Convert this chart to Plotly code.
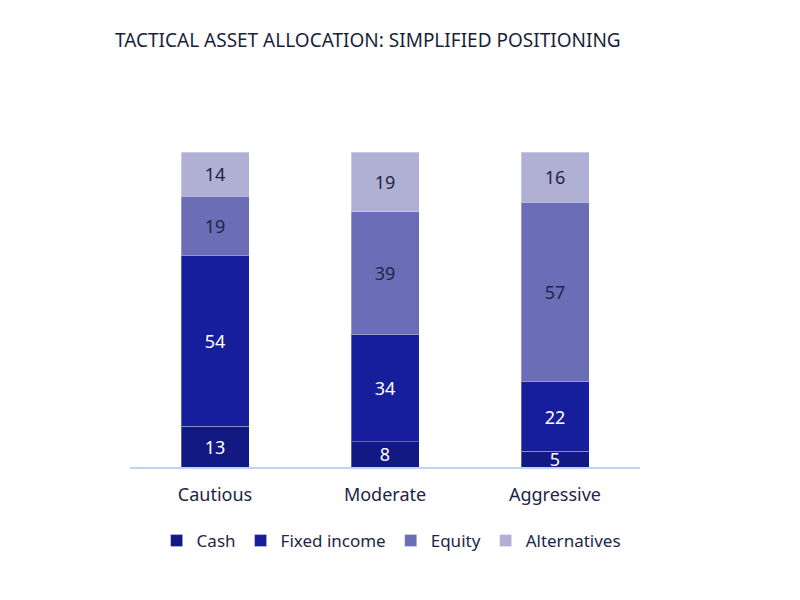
import plotly.graph_objects as go

profiles = ["Cautious", "Moderate", "Aggressive"]
cash = [13, 8, 5]
fixed_income = [54, 34, 22]
equity = [19, 39, 57]
alternatives = [14, 19, 16]

series = [
    ("Cash", cash, "#131983", "white"),
    ("Fixed income", fixed_income, "#161e9c", "white"),
    ("Equity", equity, "#6b6db7", "#1c2647"),
    ("Alternatives", alternatives, "#b0b0d5", "#1c2647"),
]

fig = go.Figure()
for name, vals, color, txtcolor in series:
    fig.add_trace(go.Bar(
        x=profiles, y=vals, name=name,
        marker=dict(color=color, line=dict(color="rgba(255,255,255,0.3)", width=1)),
        text=vals, textposition="inside", insidetextanchor="middle", textangle=0,
        textfont=dict(color=txtcolor, size=18),
        width=0.4,
    ))

# page body has an 8px margin, so everything is shifted up/left by 8px
fig.update_layout(
    barmode="stack",
    width=800, height=600,
    margin=dict(l=122, r=168, t=144, b=141),
    plot_bgcolor="white", paper_bgcolor="white",
    font=dict(family="Noto Sans, sans-serif", color="#1c2647", size=18),
    title=dict(text="TACTICAL ASSET ALLOCATION: SIMPLIFIED POSITIONING",
               x=107 / 800, xanchor="left", xref="container",
               y=1 - 32 / 600, yanchor="middle", yref="container",
               font=dict(size=19, color="#1a1f3a")),
    showlegend=True,
    legend=dict(orientation="h", x=0.512, xanchor="center", y=-0.235, yanchor="middle",
                traceorder="normal", font=dict(size=17), itemwidth=30),
    uniformtext=dict(minsize=18, mode="show"),
)
fig.update_xaxes(showline=True, linecolor="#bcd5f0", linewidth=2, ticks="",
                 tickfont=dict(size=18), ticklabelstandoff=10, range=[-0.5, 2.5])
fig.update_yaxes(visible=False, range=[0, 100], showgrid=False)

fig.write_html("out.html")
